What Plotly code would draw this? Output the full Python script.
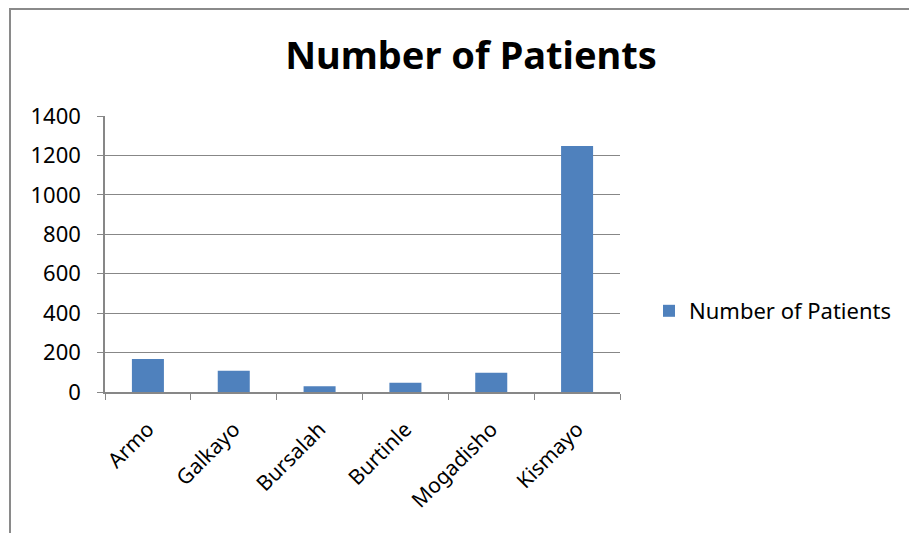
import plotly.graph_objects as go

categories = ["Armo", "Galkayo", "Bursalah", "Burtinle", "Mogadisho", "Kismayo"]
patients = [167, 108, 29, 47, 98, 1248]
y_ticks = [0, 200, 400, 600, 800, 1000, 1200, 1400]
series_name = "Number of Patients"

# figure coordinates (page body margin shifts the figure by 8px)
W, H = 909, 525
L, R, T, B = 97, 297, 108, 141
pw, ph = W - L - R, H - T - B

def px_x(x):
    return (x - L) / pw

def px_y(y):
    return (H - B - y) / ph

fig = go.Figure(go.Bar(
    x=categories, y=patients, name=series_name,
    marker=dict(color="#4F81BD", line=dict(width=0)),
    showlegend=True,
))

gray = "#878787"
font = "Noto Sans, sans-serif"

fig.update_layout(
    width=W, height=H,
    margin=dict(l=L, r=R, t=T, b=B),
    paper_bgcolor="white", plot_bgcolor="white",
    bargap=0.627,
    title=dict(text="<b>Number of Patients</b>", x=463 / W, xanchor="center",
               xref="container", y=1 - 48 / H, yanchor="middle", yref="container",
               font=dict(family=font, size=38, color="black")),
    xaxis=dict(showline=True, linecolor=gray, linewidth=1.5, ticks="outside",
               tickson="boundaries", ticklen=6, tickcolor=gray, tickangle=-45,
               ticklabelstandoff=15,
               tickfont=dict(family=font, size=21, color="black"), showgrid=False),
    yaxis=dict(range=[0, 1400], tickvals=y_ticks, showline=True, linecolor=gray,
               linewidth=1.5, ticks="outside", ticklen=6, tickcolor=gray,
               ticklabelstandoff=12,
               gridcolor=gray, gridwidth=1, zeroline=False,
               tickfont=dict(family=font, size=22, color="black")),
    legend=dict(x=px_x(641), xanchor="left", y=px_y(303), yanchor="middle",
                font=dict(family=font, size=22, color="black"),
                bgcolor="rgba(0,0,0,0)"),
    shapes=[dict(type="rect", xref="paper", yref="paper",
                 x0=px_x(2), x1=px_x(940), y0=px_y(1), y1=px_y(600),
                 line=dict(color="#8a8a8a", width=2), fillcolor="rgba(0,0,0,0)",
                 layer="below")],
)

fig.write_html("out.html")
